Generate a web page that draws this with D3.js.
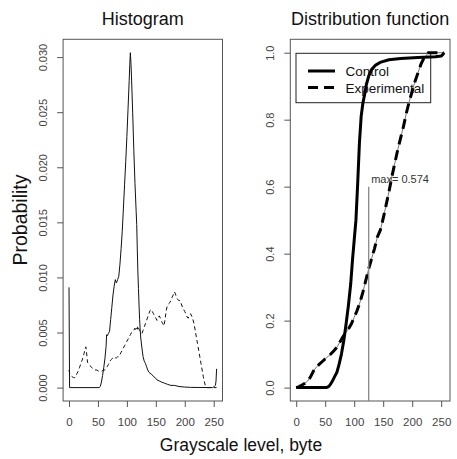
<!DOCTYPE html>
<html>
<head>
<meta charset="utf-8">
<script src="https://cdn.jsdelivr.net/npm/d3@7"></script>
<style>
  html, body { margin: 0; padding: 0; background: #fff; }
  svg { display: block; font-family: "Liberation Sans", Arial, sans-serif; }
</style>
</head>
<body>
<svg id="chart" width="457" height="459"></svg>
<script>
// Gray levels (0..255) and per-level probabilities for the control image
const controlHistLevel = [0,1,52,54,56,58,60,62,64,65,66,68,70,72,74,76,78,80,81,82,84,86,88,90,92,94,96,98,100,102,104,105,106,107,108,110,112,114,116,117,118,119,120,121,122,123,124,126,128,130,132,134,136,138,140,143,146,149,152,156,160,165,170,176,182,190,200,210,248,251,253,254,255];
const controlHistProb  = [0.0091,0,0,0.0001,0.0005,0.0011,0.0018,0.0026,0.0037,0.0048,0.0047,0.0049,0.0051,0.0062,0.0073,0.0084,0.0092,0.0098,0.0096,0.0095,0.0098,0.0101,0.0112,0.0126,0.0142,0.0163,0.0184,0.0205,0.0228,0.0253,0.0279,0.0293,0.0304,0.0295,0.0282,0.0250,0.0215,0.0185,0.0160,0.0148,0.0125,0.0105,0.0090,0.0075,0.0062,0.0052,0.0045,0.0036,0.0028,0.0024,0.0022,0.0019,0.0016,0.0014,0.0013,0.0012,0.0010,0.0009,0.0007,0.0006,0.0005,0.0004,0.0003,0.0002,0.0002,0.0001,0.00005,0.00002,0,0.0001,0.0002,0.0006,0.0017];

// Gray levels and probabilities for the experimental image
const experimentalHistLevel = [0,1,3,5,8,10,12,14,16,18,20,22,24,26,28,29,30,31,32,34,36,38,40,42,45,48,51,54,57,60,62,64,66,68,70,72,74,76,78,80,82,84,86,88,90,92,94,96,98,100,102,104,106,108,110,112,114,115,116,118,119,120,122,124,126,128,130,132,134,136,138,140,142,144,146,148,150,152,154,156,158,160,162,164,166,168,170,172,174,176,178,180,182,184,186,188,190,192,194,196,198,200,202,204,206,208,210,212,214,216,218,220,222,224,226,228,230,232,234,236,238,255];
const experimentalHistProb  = [0.0016,0.0013,0.0011,0.0010,0.0009,0.0009,0.0011,0.0013,0.0015,0.0018,0.0021,0.0024,0.0027,0.0031,0.0035,0.0037,0.0034,0.0028,0.0023,0.0021,0.0020,0.0019,0.0018,0.0017,0.0016,0.0016,0.0015,0.0015,0.0015,0.0016,0.0016,0.0017,0.0019,0.0021,0.0023,0.0025,0.0026,0.0027,0.0026,0.0027,0.0027,0.0028,0.0028,0.0030,0.0032,0.0034,0.0036,0.0038,0.0040,0.0042,0.0044,0.0046,0.0048,0.0050,0.0051,0.0052,0.0054,0.0052,0.0054,0.0053,0.0056,0.0054,0.0052,0.0050,0.0049,0.0052,0.0055,0.0058,0.0061,0.0064,0.0067,0.0070,0.0071,0.0069,0.0067,0.0065,0.0063,0.0061,0.0064,0.0065,0.0063,0.0060,0.0058,0.0056,0.0062,0.0070,0.0075,0.0076,0.0077,0.0079,0.0082,0.0084,0.0087,0.0085,0.0081,0.0080,0.0079,0.0079,0.0076,0.0073,0.0071,0.0069,0.0067,0.0064,0.0063,0.0066,0.0067,0.0065,0.0062,0.0058,0.0052,0.0046,0.0040,0.0034,0.0028,0.0022,0.0016,0.0010,0.0005,0.0001,0,0];

// Cumulative distribution of the control image
const controlCdfLevel = [0,52,55,58,62,66,70,74,78,82,86,90,94,97,100,103,106,109,112,115,118,121,125,130,137,146,160,180,210,240,250,253,255];
const controlCdfValue = [0,0,0.002,0.007,0.018,0.032,0.045,0.07,0.10,0.14,0.19,0.245,0.31,0.38,0.44,0.50,0.61,0.73,0.81,0.85,0.875,0.905,0.93,0.95,0.963,0.972,0.979,0.983,0.986,0.988,0.990,0.995,1.0];

// Cumulative distribution of the experimental image
const experimentalCdfLevel = [0,5,10,15,20,25,30,35,40,45,50,55,60,65,70,75,80,85,90,95,100,105,110,115,120,125,130,135,140,145,150,155,160,165,170,175,180,185,190,195,200,205,210,215,220,225,228,255];
const experimentalCdfValue = [0,0.003,0.008,0.013,0.02,0.033,0.05,0.062,0.07,0.078,0.086,0.093,0.101,0.11,0.12,0.135,0.15,0.163,0.175,0.19,0.21,0.23,0.255,0.285,0.32,0.355,0.385,0.415,0.45,0.47,0.505,0.545,0.585,0.63,0.67,0.71,0.745,0.78,0.82,0.855,0.885,0.915,0.94,0.965,0.983,0.993,1.0,1.0];

// Maximum vertical gap between the two distribution functions
const maxGapLevel = [125];
const maxGapValue = [0.574];
const maxGapLineTop = [0.6];

// Axis ticks and texts
const xTicks = [0, 50, 100, 150, 200, 250];
const histYTicks = [0, 0.005, 0.010, 0.015, 0.020, 0.025, 0.030];
const cdfYTicks = [0, 0.2, 0.4, 0.6, 0.8, 1.0];
const panelTitles = ["Histogram", "Distribution function"];
const seriesNames = ["Control", "Experimental"];
const yAxisTitle = "Probability";
const xAxisTitle = "Grayscale level, byte";

const svg = d3.select("#chart");
const boxColor = "#555";
const labelColor = "#444";

function pad(lo, hi) { const d = (hi - lo) * 0.04; return [lo - d, hi + d]; }

const xDomain = pad(0, 255);
const histMax = d3.max(controlHistProb.concat(experimentalHistProb));

const panels = [
  { x0: 63.1, x1: 222.5, yDomain: pad(0, histMax), yTicks: histYTicks, fmt: d3.format(".3f"), title: panelTitles[0] },
  { x0: 290.3, x1: 450, yDomain: pad(0, 1), yTicks: cdfYTicks, fmt: d3.format(".1f"), title: panelTitles[1] }
];
const yTop = 39.3, yBottom = 401;

panels.forEach(p => {
  p.x = d3.scaleLinear().domain(xDomain).range([p.x0, p.x1]);
  p.y = d3.scaleLinear().domain(p.yDomain).range([yBottom, yTop]);

  const g = svg.append("g");

  // x axis
  const xa = g.append("g")
    .attr("transform", `translate(0,${yBottom})`)
    .call(d3.axisBottom(p.x).tickValues(xTicks).tickSize(6).tickSizeOuter(0).tickFormat(d3.format("d")));
  xa.select(".domain").remove();
  xa.selectAll(".tick line").attr("stroke", boxColor);
  xa.selectAll(".tick text")
    .attr("y", 25).attr("dy", 0)
    .attr("fill", labelColor)
    .style("font-size", "11.5px")
    .style("font-family", "'Liberation Sans', Arial, sans-serif");

  // y axis with rotated labels
  const ya = g.append("g")
    .attr("transform", `translate(${p.x0},0)`)
    .call(d3.axisLeft(p.y).tickValues(p.yTicks).tickSize(6).tickSizeOuter(0).tickFormat(p.fmt));
  ya.select(".domain").remove();
  ya.selectAll(".tick line").attr("stroke", boxColor);
  ya.selectAll(".tick text")
    .attr("x", 0).attr("y", 0).attr("dy", 0)
    .attr("text-anchor", "middle")
    .attr("transform", "translate(-16,0) rotate(-90)")
    .attr("fill", labelColor)
    .style("font-size", "11px")
    .style("font-family", "'Liberation Sans', Arial, sans-serif");

  // frame
  g.append("rect")
    .attr("x", p.x0).attr("y", yTop)
    .attr("width", p.x1 - p.x0).attr("height", yBottom - yTop)
    .attr("fill", "none").attr("stroke", boxColor).attr("stroke-width", 1);

  // title
  g.append("text")
    .attr("x", (p.x0 + p.x1) / 2).attr("y", 25)
    .attr("text-anchor", "middle")
    .style("font-size", "18px")
    .attr("fill", "#111")
    .text(p.title);
});

// Histogram panel
const hp = panels[0];
const histLine = d3.line().x(d => hp.x(d[0])).y(d => hp.y(d[1]));
svg.append("path")
  .datum(experimentalHistLevel.map((l, i) => [l, experimentalHistProb[i]]))
  .attr("d", histLine)
  .attr("fill", "none").attr("stroke", "#111").attr("stroke-width", 1)
  .attr("stroke-dasharray", "4,3");
svg.append("path")
  .datum(controlHistLevel.map((l, i) => [l, controlHistProb[i]]))
  .attr("d", histLine)
  .attr("fill", "none").attr("stroke", "#111").attr("stroke-width", 1);

// Distribution function panel
const cp = panels[1];
const cdfLine = d3.line().x(d => cp.x(d[0])).y(d => cp.y(d[1]));

// legend frame and keys
const lg = svg.append("g");
lg.append("rect")
  .attr("x", 296).attr("y", 53.3).attr("width", 134.7).attr("height", 49.4)
  .attr("fill", "none").attr("stroke", "#222").attr("stroke-width", 1);
const legendRows = [71, 87.5];
seriesNames.forEach((name, i) => {
  lg.append("line")
    .attr("x1", 308).attr("x2", 335).attr("y1", legendRows[i]).attr("y2", legendRows[i])
    .attr("stroke", "#000").attr("stroke-width", 3)
    .attr("stroke-dasharray", i === 1 ? "10,6" : null);
  lg.append("text")
    .attr("x", 345.5).attr("y", legendRows[i] + 5)
    .style("font-size", "13.5px")
    .attr("fill", "#111")
    .text(name);
});

const expData = experimentalCdfLevel.map((l, i) => [l, experimentalCdfValue[i]]);
svg.append("path")
  .datum(expData)
  .attr("d", cdfLine)
  .attr("fill", "none").attr("stroke", "#777").attr("stroke-width", 1);
svg.append("path")
  .datum(expData)
  .attr("d", cdfLine)
  .attr("fill", "none").attr("stroke", "#000").attr("stroke-width", 3)
  .attr("stroke-dasharray", "10,6");
svg.append("path")
  .datum(controlCdfLevel.map((l, i) => [l, controlCdfValue[i]]))
  .attr("d", cdfLine)
  .attr("fill", "none").attr("stroke", "#000").attr("stroke-width", 3)
  .attr("stroke-linejoin", "round");

// marker of the largest gap
svg.append("line")
  .attr("x1", cp.x(maxGapLevel[0])).attr("x2", cp.x(maxGapLevel[0]))
  .attr("y1", yBottom).attr("y2", cp.y(maxGapLineTop[0]))
  .attr("stroke", "#888").attr("stroke-width", 1.3);
svg.append("text")
  .attr("x", cp.x(maxGapLevel[0]) + 2.5).attr("y", 183)
  .style("font-size", "11px")
  .attr("fill", "#333")
  .text("max= " + maxGapValue[0]);

// shared axis titles
svg.append("text")
  .attr("transform", "translate(27,220) rotate(-90)")
  .attr("text-anchor", "middle")
  .style("font-size", "19.5px")
  .attr("fill", "#111")
  .text(yAxisTitle);
svg.append("text")
  .attr("x", 241).attr("y", 451)
  .attr("text-anchor", "middle")
  .style("font-size", "17.5px")
  .attr("fill", "#111")
  .text(xAxisTitle);
</script>
</body>
</html>
